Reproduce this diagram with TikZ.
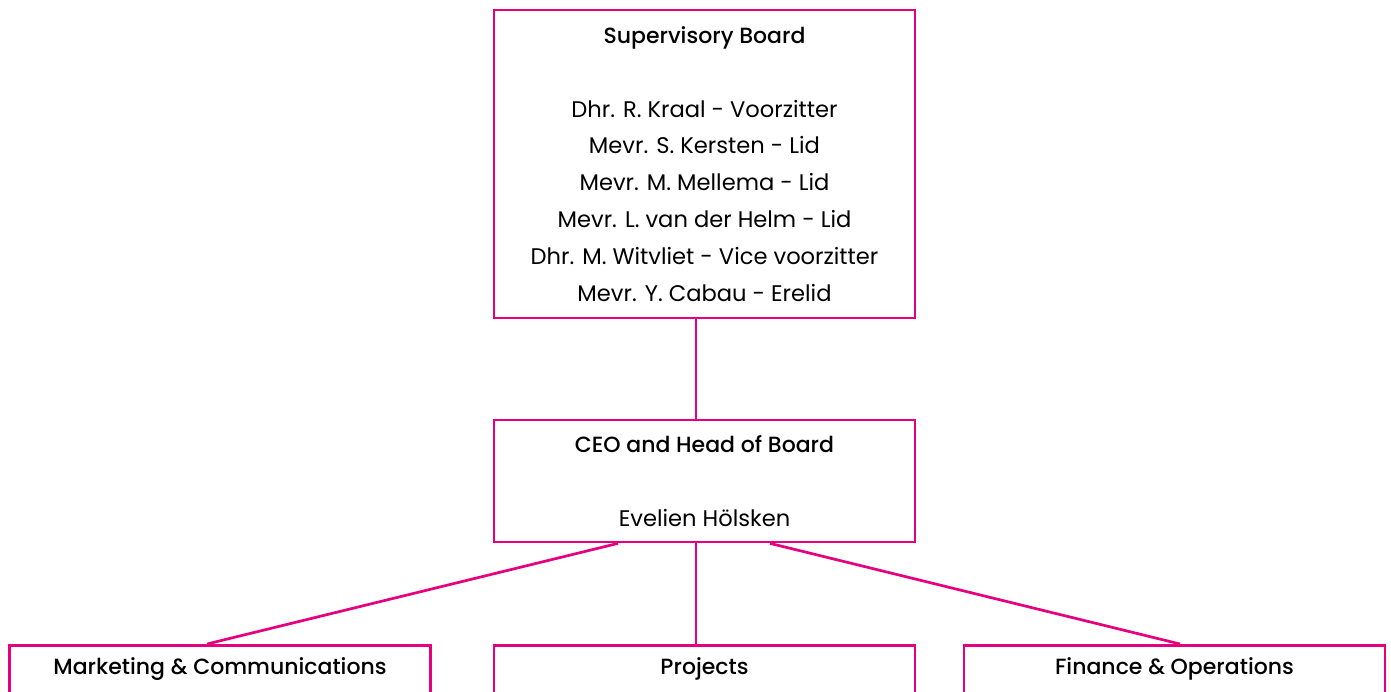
\documentclass[tikz,border=0pt]{standalone}
\usepackage{fontspec}
\setmainfont{Poppins}
\newfontfamily\headfont{Poppins Medium}
\usepackage{tikz}
\usetikzlibrary{positioning,calc}
\definecolor{orgpink}{RGB}{230,0,126}
\tikzset{
    unitbox/.style={
        rectangle, draw=orgpink, line width=2.7pt,
        minimum width=421pt, inner sep=0pt, align=center
    },
    link/.style={
        draw=orgpink, line width=2.7pt
    },
    headtext/.style={
        font=\headfont\fontsize{22}{36.8}\selectfont
    }
}

\begin{document}
\begin{tikzpicture}[
    x=1pt, y=-1pt,
    every node/.style={font=\fontsize{22.6}{36.8}\selectfont}
  ]
    \useasboundingbox (0,0) rectangle (1391,691);
    \clip (0,0) rectangle (1391,691);

    % top of the chart
    \node[unitbox, minimum height=308pt] (board) at (704.5,164) {%
        {\headfont\fontsize{22}{36.8}\selectfont Supervisory Board}\\[36.8pt]
        Dhr. R. Kraal - Voorzitter\\
        Mevr. S. Kersten - Lid\\
        Mevr. M. Mellema - Lid\\
        Mevr. L. van der Helm - Lid\\
        Dhr. M. Witvliet - Vice voorzitter\\
        Mevr. Y. Cabau - Erelid};

    \node[unitbox, minimum height=122pt] (ceo) at (704.5,481) {%
        {\headfont\fontsize{22}{36.8}\selectfont CEO and Head of Board}\\[36.8pt]
        Evelien Hölsken};

    % departments (cut off at the bottom)
    \node[unitbox, minimum height=120pt, anchor=north] (mkt) at (220,644) {};
    \node[unitbox, minimum height=120pt, anchor=north] (proj) at (704.5,644) {};
    \node[unitbox, minimum height=120pt, anchor=north] (fin) at (1174.5,644) {};
    \node[headtext] (mkttext) at ([yshift=-25pt]mkt.north) {Marketing \& Communications};
    \node[headtext] (projtext) at ([yshift=-25pt]proj.north) {Projects};
    \node[headtext] (fintext) at ([yshift=-25pt]fin.north) {Finance \& Operations};

    \draw[link] ([xshift=-8.5pt]board.south) -- ([xshift=-8.5pt]ceo.north);
    \draw[link] ([xshift=-86.5pt]ceo.south) -- ([xshift=-13pt]mkt.north);
    \draw[link] ([xshift=-8.5pt]ceo.south) -- ([xshift=-8.5pt]proj.north);
    \draw[link] ([xshift=65.5pt]ceo.south) -- ([xshift=5.5pt]fin.north);

\end{tikzpicture}
\end{document}
